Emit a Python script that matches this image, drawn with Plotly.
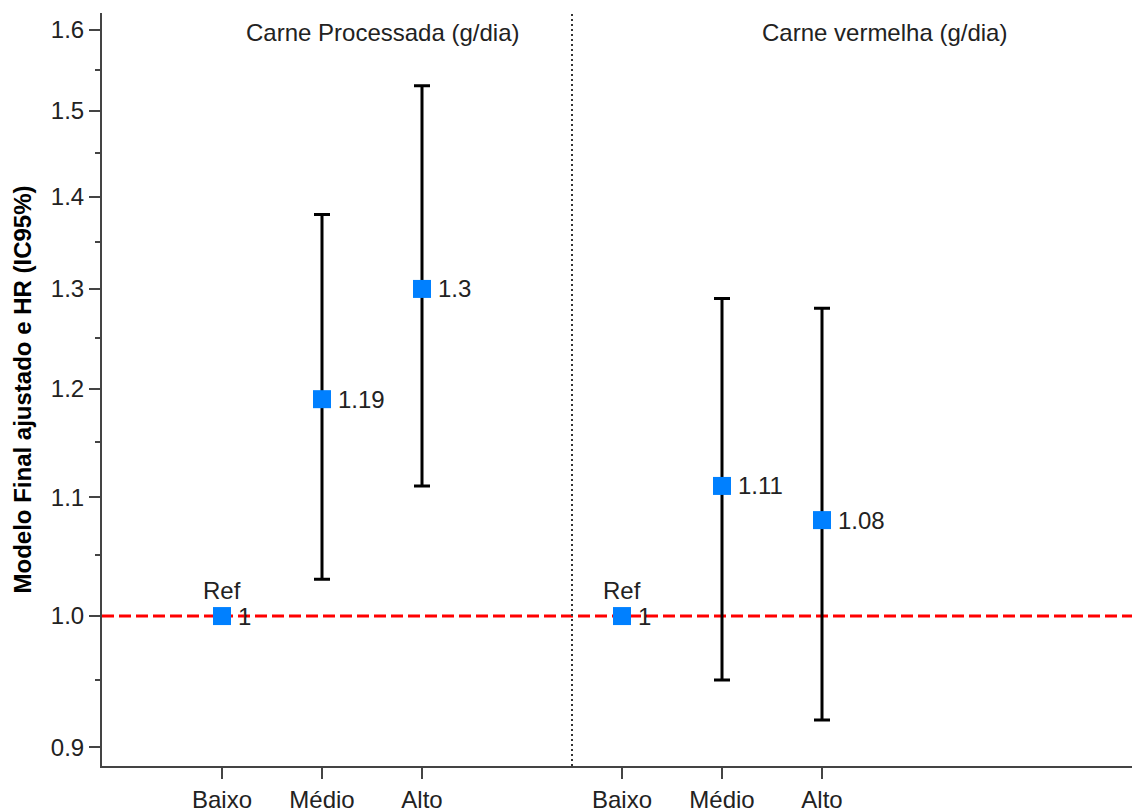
import plotly.graph_objects as go
import math

# ---- data ----
categories = ["Baixo", "Médio", "Alto"]
groups = ["Carne Processada (g/dia)", "Carne vermelha (g/dia)"]
group_x = [[1, 2, 3], [5, 6, 7]]

hr_processed = [1.00, 1.19, 1.30]
lo_processed = [None, 1.03, 1.11]
hi_processed = [None, 1.38, 1.53]
labels_processed = ["1", "1.19", "1.3"]

hr_red = [1.00, 1.11, 1.08]
lo_red = [None, 0.95, 0.92]
hi_red = [None, 1.29, 1.28]
labels_red = ["1", "1.11", "1.08"]

ref_value = 1.0
ref_label = "Ref"
divider_x = 4.5

y_tickvals = [0.9, 1.0, 1.1, 1.2, 1.3, 1.4, 1.5, 1.6]
y_minor = [0.95, 1.05, 1.15, 1.25, 1.35, 1.45, 1.55]
y_ticktext = ["0.9", "1.0", "1.1", "1.2", "1.3", "1.4", "1.5", "1.6"]

FONT = "Arial, Liberation Sans, sans-serif"
TXT = "#222222"
BLUE = "#0080FF"
FS = 24

fig = go.Figure()

series = [
    (group_x[0], hr_processed, lo_processed, hi_processed, labels_processed),
    (group_x[1], hr_red, lo_red, hi_red, labels_red),
]

for xs, hr, lo, hi, labs in series:
    idx = [i for i in range(len(hr)) if lo[i] is not None]
    fig.add_trace(go.Scatter(
        x=[xs[i] for i in idx], y=[hr[i] for i in idx],
        mode="markers",
        marker=dict(size=1, color="rgba(0,0,0,0)"),
        error_y=dict(type="data", symmetric=False,
                     array=[hi[i] - hr[i] for i in idx],
                     arrayminus=[hr[i] - lo[i] for i in idx],
                     color="black", thickness=3, width=8),
        showlegend=False, hoverinfo="skip",
    ))
    fig.add_trace(go.Scatter(
        x=xs, y=hr, mode="markers",
        marker=dict(symbol="square", size=18, color=BLUE),
        showlegend=False,
    ))
    for x, y, t in zip(xs, hr, labs):
        fig.add_annotation(x=x, y=math.log10(y), text=t, showarrow=False,
                           xanchor="left", yanchor="middle", xshift=14, yshift=0,
                           font=dict(family=FONT, size=FS, color=TXT))
    fig.add_annotation(x=xs[0], y=math.log10(hr[0]), text=ref_label, showarrow=False,
                       xanchor="center", yanchor="middle", yshift=26,
                       font=dict(family=FONT, size=FS, color=TXT))

fig.add_hline(y=ref_value, line=dict(color="#FF0000", width=3, dash="12px,5px"), layer="below")
fig.add_vline(x=divider_x, line=dict(color="#333333", width=2, dash="2px,3px"), layer="below")

title_px = [382.5, 884]
for px, title in zip(title_px, groups):
    fig.add_annotation(x=(px - 102) / 1030, y=1 - (33 - 13) / 753, xref="paper", yref="paper",
                       text=title, showarrow=False, xanchor="center", yanchor="middle",
                       font=dict(family=FONT, size=FS, color=TXT))

all_x = group_x[0] + group_x[1]
fig.update_layout(
    width=1132, height=809,
    margin=dict(l=102, r=0, t=13, b=43),
    paper_bgcolor="white", plot_bgcolor="white",
    font=dict(family=FONT, size=FS, color=TXT),
    xaxis=dict(range=[-0.2, 10.1], tickvals=all_x, ticktext=categories + categories,
               automargin=False,
               showgrid=False, zeroline=False, showline=True, linecolor="#444444", linewidth=2,
               ticks="outside", ticklen=11, tickwidth=2, tickcolor="#444444",
               tickfont=dict(family=FONT, size=FS, color=TXT)),
    yaxis=dict(type="log", range=[math.log10(0.8867), math.log10(1.622)],
               automargin=False,
               tickvals=y_tickvals, ticktext=y_ticktext,
               showgrid=False, zeroline=False, showline=True, linecolor="#444444", linewidth=2,
               ticks="outside", ticklen=11, tickwidth=2, tickcolor="#444444",
               tickfont=dict(family=FONT, size=FS, color=TXT),
               minor=dict(tickvals=y_minor, ticks="outside", ticklen=5, tickwidth=2,
                          tickcolor="#444444", showgrid=False),
               title=dict(text="<b>Modelo Final ajustado e HR (IC95%)</b>",
                          font=dict(family=FONT, size=FS, color="black"), standoff=12)),
)

fig.write_html(
    "out.html",
    config={"displayModeBar": False},
    post_script="document.body.style.margin='0';document.body.style.overflow='hidden';",
)
